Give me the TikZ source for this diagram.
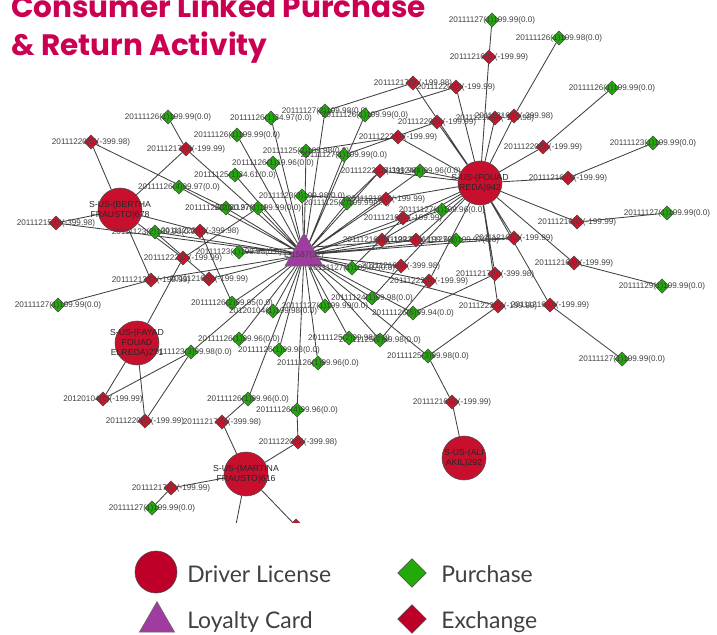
\documentclass[tikz,border=0pt]{standalone}
\usepackage{fontspec}
\setmainfont{Liberation Sans}
\newfontfamily\titlefont{Poppins}
\newfontfamily\legendfont{Lato}
\usetikzlibrary{shapes.geometric, backgrounds}
\definecolor{titlecolor}{RGB}{204,0,82}
\definecolor{licensered}{RGB}{200,16,46}
\definecolor{loyaltypurple}{RGB}{160,60,160}
\definecolor{buygreen}{RGB}{34,170,10}
\definecolor{swapred}{RGB}{205,20,45}
\definecolor{keyred}{RGB}{190,0,40}

\begin{document}
\begin{tikzpicture}[
    x=0.025cm, y=-0.025cm,
    license/.style={circle, draw=black!70, fill=licensered, minimum size=1.1cm, inner sep=0pt},
    loyalty/.style={regular polygon, regular polygon sides=3, draw=black!60, fill=loyaltypurple, minimum size=1.1cm, inner sep=0pt},
    buy/.style={diamond, draw=black!70, fill=buygreen, minimum width=0.36cm, minimum height=0.36cm, inner sep=0pt},
    swap/.style={diamond, draw=black!70, fill=swapred, minimum width=0.36cm, minimum height=0.36cm, inner sep=0pt},
    every label/.style={font=\fontsize{5.8}{6.2}\selectfont, text=black!75, inner sep=0pt, align=center},
    owner/.style={font=\fontsize{6.2}{7}\selectfont, text=black!85},
    link/.style={draw=black!75, line width=0.6pt},
    titletext/.style={font=\titlefont\bfseries\fontsize{21}{24}\selectfont, text=titlecolor, inner sep=0pt, anchor=base west},
    keytext/.style={font=\legendfont\fontsize{16.3}{19}\selectfont, text=black!75, inner sep=0pt, anchor=base west}
]
    \useasboundingbox (0,0) rectangle (717,634);

    % title
    \node[titletext] (title1) at (11,17) {Consumer Linked Purchase};
    \node[titletext] (title2) at (11,55) {\& Return Activity};

    % customers and loyalty card
    \node[loyalty, label=center:L-1587(32)] (card) at (304,255) {};
    \node[license, label={[owner]center:{S-US-(BERTHA\\FRAUSTO)678}}] (bertha) at (120,210) {};
    \node[license, label={[owner]center:{S-US-(FOUAD\\REDA)942}}] (fouad) at (480,183) {};
    \node[license, label={[owner]center:{S-US-(FAYAD\\FOUAD\\ELREDA)271}}] (fayad) at (137,343) {};
    \node[license, label={[owner]center:{S-US-(MARTINA\\FRAUSTO)616}}] (martina) at (246,474) {};
    \node[license, label={[owner]center:{S-US-(ALI\\AKIL)292}}] (ali) at (464,458) {};
    \coordinate (offpage) at (226,575);

    % purchases
    \node[buy, label=center:20111127(1)199.99(0.0)] (p1) at (492,20) {};
    \node[buy, label=center:20111126(1)199.98(0.0)] (p2) at (559,38) {};
    \node[buy, label=center:20111126(1)199.99(0.0)] (p3) at (612,88) {};
    \node[buy, label=center:20111123(1)199.99(0.0)] (p4) at (653,143) {};
    \node[buy, label=center:20111127(1)199.99(0.0)] (p5) at (667,213) {};
    \node[buy, label=center:20111129(1)199.99(0.0)] (p6) at (662,286) {};
    \node[buy, label=center:20111127(1)199.99(0.0)] (p7) at (622,359) {};
    \node[buy, label=center:20111124(4)99.96(0.0)] (p8) at (420,171) {};
    \node[buy, label=center:20111127(1)199.96(0.0)] (p9) at (442,210) {};
    \node[buy, label=center:20111127(1)199.97(0.0)] (p10) at (456,240) {};
    \node[buy, label=center:20111126(6)99.94(0.0)] (p11) at (413,313) {};
    \node[buy, label=center:20111125(3)99.98(0.0)] (p12) at (428,356) {};
    \node[buy, label=center:20111125(2)99.98(0.0)] (p13) at (380,340) {};
    \node[buy, label=center:20111124(1)99.98(0.0)] (p14) at (372,298) {};
    \node[buy, label=center:20111127(1)199.97(0.0)] (p15) at (352,268) {};
    \node[buy, label=center:20111127(2)199.98(0.0)] (p16) at (325,111) {};
    \node[buy, label=center:20111126(1)199.99(0.0)] (p17) at (365,115) {};
    \node[buy, label=center:20111126(1)34.97(0.0)] (p18) at (271,118) {};
    \node[buy, label=center:20111126(1)199.99(0.0)] (p19) at (237,135) {};
    \node[buy, label=center:20111125(2)199.98(0.0)] (p20) at (306,151) {};
    \node[buy, label=center:20111127(1)199.99(0.0)] (p21) at (344,155) {};
    \node[buy, label=center:20111126(1)19.96(0.0)] (p22) at (273,163) {};
    \node[buy, label=center:20111125(1)34.61(0.0)] (p23) at (235,175) {};
    \node[buy, label=center:20111126(4)99.97(0.0)] (p24) at (179,187) {};
    \node[buy, label=center:20111123(3)199.98(0.0)] (p25) at (302,196) {};
    \node[buy, label=center:20111125(2)199.99(0.0)] (p26) at (347,203) {};
    \node[buy, label=center:20111126(2)20.97(0.0)] (p27) at (226,208) {};
    \node[buy, label=center:20111127(1)199.99(0.0)] (p28) at (258,208) {};
    \node[buy, label=center:20111123(2)199.98(0.0)] (p29) at (155,232) {};
    \node[buy, label=center:20111123(1)199.98(0.0)] (p30) at (239,252) {};
    \node[buy, label=center:20111126(1)199.99(0.0)] (p31) at (168,117) {};
    \node[buy, label=center:20111127(1)199.99(0.0)] (p32) at (58,305) {};
    \node[buy, label=center:20111126(2)99.95(0.0)] (p33) at (232,303) {};
    \node[buy, label=center:20120104(1)199.98(0.0)] (p34) at (273,311) {};
    \node[buy, label=center:20111127(1)199.99(0.0)] (p35) at (325,306) {};
    \node[buy, label=center:20111126(1)99.96(0.0)] (p36) at (239,339) {};
    \node[buy, label=center:20111123(3)99.98(0.0)] (p37) at (191,352) {};
    \node[buy, label=center:20111126(1)99.98(0.0)] (p38) at (279,350) {};
    \node[buy, label=center:20111126(1)99.96(0.0)] (p39) at (318,363) {};
    \node[buy, label=center:20111125(2)99.98(0.0)] (p40) at (349,338) {};
    \node[buy, label=center:20111126(1)99.96(0.0)] (p41) at (248,399) {};
    \node[buy, label=center:20111126(4)99.96(0.0)] (p42) at (297,410) {};
    \node[buy, label=center:20111127(1)199.99(0.0)] (p43) at (152,508) {};

    % exchanges
    \node[swap, label=center:20111216(0)(-199.99)] (x1) at (489,57) {};
    \node[swap, label=center:20111217(0)(-199.98)] (x2) at (413,83) {};
    \node[swap, label=center:20111220(0)(-199.99)] (x3) at (456,87) {};
    \node[swap, label=center:20111216(0)(-199.98)] (x4) at (495,118) {};
    \node[swap, label=center:20111216(0)(-399.98)] (x5) at (514,116) {};
    \node[swap, label=center:20111220(0)(-199.99)] (x6) at (437,122) {};
    \node[swap, label=center:20111222(0)(-199.99)] (x7) at (398,137) {};
    \node[swap, label=center:20111220(0)(-199.99)] (x8) at (543,147) {};
    \node[swap, label=center:20111216(0)(-199.99)] (x9) at (568,178) {};
    \node[swap, label=center:20111222(0)(-399.98)] (x10) at (380,171) {};
    \node[swap, label=center:20111216(0)(-199.99)] (x11) at (386,199) {};
    \node[swap, label=center:20111216(0)(-199.99)] (x12) at (403,218) {};
    \node[swap, label=center:20111216(0)(-199.99)] (x13) at (577,222) {};
    \node[swap, label=center:20111216(0)(-199.98)] (x14) at (382,240) {};
    \node[swap, label=center:20111222(0)(-199.99)] (x15) at (416,240) {};
    \node[swap, label=center:20111216(0)(-199.99)] (x16) at (514,238) {};
    \node[swap, label=center:20111216(0)(-199.99)] (x17) at (574,263) {};
    \node[swap, label=center:20111216(0)(-399.98)] (x18) at (401,266) {};
    \node[swap, label=center:20111223(0)(-199.99)] (x19) at (429,281) {};
    \node[swap, label=center:20111217(0)(-399.98)] (x20) at (495,274) {};
    \node[swap, label=center:20111223(0)(-199.99)] (x21) at (498,306) {};
    \node[swap, label=center:20111216(0)(-199.99)] (x22) at (550,305) {};
    \node[swap, label=center:20111216(0)(-199.99)] (x23) at (452,402) {};
    \node[swap, label=center:20111220(0)(-399.98)] (x24) at (91,142) {};
    \node[swap, label=center:20111217(0)(-199.99)] (x25) at (186,149) {};
    \node[swap, label=center:20111215(0)(-399.98)] (x26) at (56,223) {};
    \node[swap, label=center:20111222(0)(-399.98)] (x27) at (200,231) {};
    \node[swap, label=center:20111222(0)(-199.99)] (x28) at (183,258) {};
    \node[swap, label=center:20111213(0)(-199.99)] (x29) at (151,280) {};
    \node[swap, label=center:20111216(0)(-199.99)] (x30) at (209,279) {};
    \node[swap, label=center:20120104(0)(-199.99)] (x31) at (103,399) {};
    \node[swap, label=center:20111220(0)(-199.99)] (x32) at (145,421) {};
    \node[swap, label=center:20111217(0)(-399.98)] (x33) at (222,422) {};
    \node[swap, label=center:20111220(0)(-399.98)] (x34) at (298,442) {};
    \node[swap, label=center:20111217(0)(-199.99)] (x35) at (171,488) {};
    \begin{scope}
        \clip (0,0) rectangle (717,522);
        \node[swap] (x36) at (296,526) {};
    \end{scope}

    \begin{scope}[on background layer]
        \clip (0,0) rectangle (717,522);
        % loyalty card links
        \draw[link] (card) -- (p8) (card) -- (p9) (card) -- (p10) (card) -- (p11)
            (card) -- (p12) (card) -- (p13) (card) -- (p14) (card) -- (p15)
            (card) -- (p16) (card) -- (p17) (card) -- (p18) (card) -- (p19)
            (card) -- (p20) (card) -- (p21) (card) -- (p22) (card) -- (p23)
            (card) -- (p24) (card) -- (p25) (card) -- (p26) (card) -- (p27)
            (card) -- (p28) (card) -- (p29) (card) -- (p30) (card) -- (p33)
            (card) -- (p34) (card) -- (p35) (card) -- (p36) (card) -- (p37)
            (card) -- (p38) (card) -- (p39) (card) -- (p40) (card) -- (p41)
            (card) -- (p42) (card) -- (x10) (card) -- (x11) (card) -- (x12)
            (card) -- (x14) (card) -- (x15) (card) -- (x16) (card) -- (x18)
            (card) -- (x19) (card) -- (x21) (card) -- (x25) (card) -- (x26)
            (card) -- (x27) (card) -- (x29) (card) -- (x30);
        % fouad
        \draw[link] (fouad) -- (x1) (fouad) -- (x2) (fouad) -- (x3) (fouad) -- (x4)
            (fouad) -- (x5) (fouad) -- (x6) (fouad) -- (x7) (fouad) -- (x8)
            (fouad) -- (x9) (fouad) -- (x10) (fouad) -- (x11) (fouad) -- (x12)
            (fouad) -- (x13) (fouad) -- (x14) (fouad) -- (x15) (fouad) -- (x16)
            (fouad) -- (x17) (fouad) -- (x18) (fouad) -- (x19) (fouad) -- (x20)
            (fouad) -- (x21) (fouad) -- (x22) (fouad) -- (p8) (fouad) -- (p9);
        \draw[link] (p1) -- (x1) (p2) -- (x5) (p3) -- (x8) (p4) -- (x9)
            (p5) -- (x13) (p6) -- (x17) (p7) -- (x22);
        \draw[link] (p16) -- (x2) (p17) -- (x3) (p21) -- (x6) (p20) -- (x7)
            (p26) -- (x10) (p25) -- (x11) (p15) -- (x12) (p30) -- (x15)
            (p10) -- (x16) (p14) -- (x18) (p13) -- (x19) (p11) -- (x20)
            (p12) -- (x21) (p12) -- (x23) (x23) -- (ali);
        % bertha
        \draw[link] (bertha) -- (x24) (bertha) -- (x25) (bertha) -- (x26)
            (bertha) -- (x27) (bertha) -- (x28) (bertha) -- (x29);
        \draw[link] (x24) -- (p27) (x25) -- (p31) (x27) -- (p33) (x28) -- (p28)
            (x29) -- (p32) (x30) -- (p29);
        % fayad
        \draw[link] (fayad) -- (x31) (fayad) -- (x32) (fayad) -- (x28)
            (x31) -- (p37) (x32) -- (p37);
        % martina
        \draw[link] (martina) -- (x33) (martina) -- (x34) (martina) -- (x35)
            (martina) -- (x36) (martina) -- (offpage);
        \draw[link] (x33) -- (p41) (x34) -- (p42) (x35) -- (p43);
    \end{scope}

    % legend
    \node[license, fill=keyred, minimum size=1.05cm] (keylicense) at (156,572) {};
    \node[keytext] (keylicensetext) at (187,582) {Driver License};
    \node[loyalty, minimum size=1.02cm] (keyloyalty) at (157,622) {};
    \node[keytext] (keyloyaltytext) at (187,628) {Loyalty Card};
    \node[buy, minimum width=0.72cm, minimum height=0.72cm] (keybuy) at (412,573) {};
    \node[keytext] (keybuytext) at (441,582) {Purchase};
    \node[swap, fill=keyred, minimum width=0.72cm, minimum height=0.72cm] (keyswap) at (412,619) {};
    \node[keytext] (keyswaptext) at (441,628) {Exchange};
\end{tikzpicture}
\end{document}
